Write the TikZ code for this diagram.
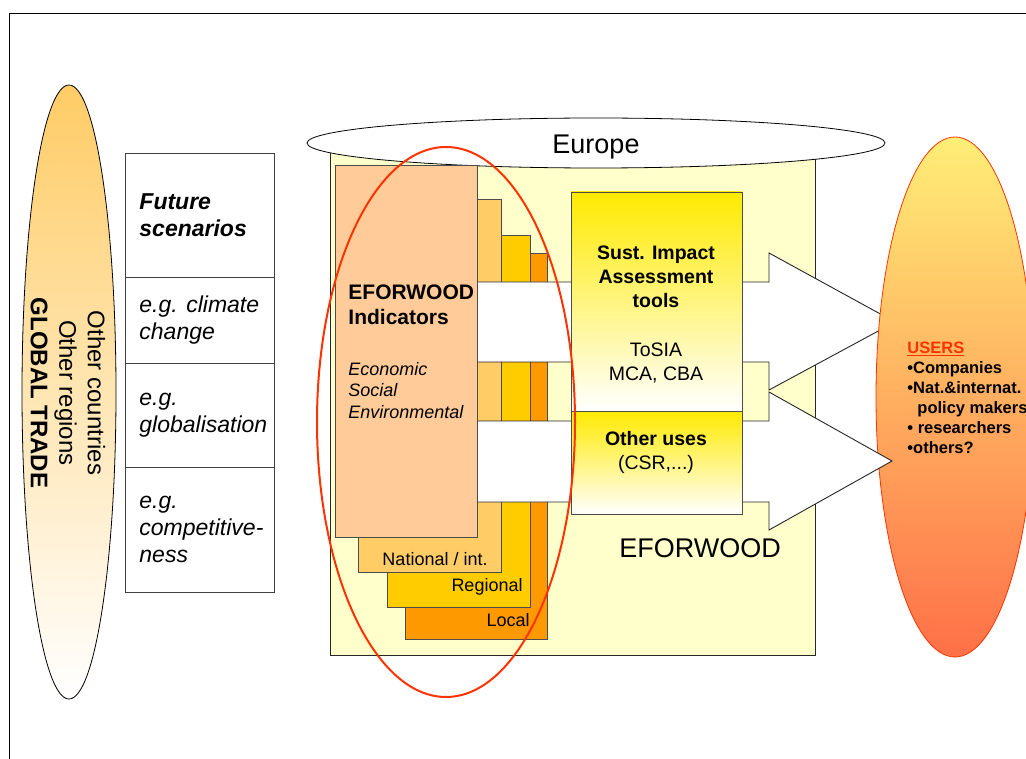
\documentclass[tikz,border=0pt]{standalone}
\usepackage{fontspec}
\setmainfont{Liberation Sans}
\usepackage{tikz}
\usetikzlibrary{shapes.geometric, positioning}

\definecolor{tradeTop}{HTML}{FFCC66}
\definecolor{euroYellow}{HTML}{FFFFCC}
\definecolor{indicPeach}{HTML}{FFCC99}
\definecolor{natOrange}{HTML}{FFCC66}
\definecolor{regGold}{HTML}{FFCC00}
\definecolor{localOrange}{HTML}{FF9900}
\definecolor{toolYellow}{HTML}{FFEA00}
\definecolor{ringRed}{HTML}{FF3300}
\definecolor{usersTop}{HTML}{FFEE77}
\definecolor{usersMid}{HTML}{FFC46C}
\definecolor{usersBottom}{HTML}{FF7048}

\tikzstyle{scencell} = [rectangle, draw=black!75, fill=white, minimum width=149pt,
inner sep=0pt, outer sep=0pt, anchor=north west]
\tikzstyle{scentext} = [inner sep=0pt, align=left, anchor=west,
font=\itshape\fontsize{23}{27}\selectfont]
\tikzstyle{region} = [rectangle, draw=black!85, fill=euroYellow, inner sep=0pt,
outer sep=0pt, anchor=north west]
\tikzstyle{stackbox} = [rectangle, draw=black!70, inner sep=0pt, outer sep=0pt,
anchor=north west]
\tikzstyle{stacklabel} = [inner sep=0pt, anchor=base east,
font=\fontsize{18}{21.5}\selectfont]
\tikzstyle{toolbox} = [rectangle, draw=black!70, top color=toolYellow,
bottom color=white, minimum width=171pt, inner sep=0pt, outer sep=0pt,
anchor=north west]
\tikzstyle{bigarrow} = [draw=black!85, fill=white, line width=0.9pt,
line join=miter]

\begin{document}
\begin{tikzpicture}[x=1pt, y=-1pt, line width=0.9pt]
\useasboundingbox (0,0) rectangle (1026,759);

\draw[line width=0.8pt] (9,775) -- (9,13) -- (1040,13);

% global trade
\node(tradeOval)[ellipse, draw=black, line width=0.8pt, top color=tradeTop,
bottom color=white, minimum width=94pt, minimum height=614pt] at (69,392) {};
\node(tradeText)[rotate=-90, align=center, inner sep=0pt,
font=\fontsize{24}{28.5}\selectfont] at (68,393)
{Other countries\\Other regions\\\textbf{GLOBAL TRADE}};

% scenarios
\node(future)[scencell, minimum height=124pt] at (125,153) {};
\node(climate)[scencell, minimum height=86pt, below=0pt of future] {};
\node(globalisation)[scencell, minimum height=104pt, below=0pt of climate] {};
\node(competition)[scencell, minimum height=125pt, below=0pt of globalisation] {};

\node[scentext, font=\bfseries\itshape\fontsize{23}{27}\selectfont,
right=14pt of future.west]{Future\\scenarios};
\node[scentext, right=14pt of climate.west]{e.g. climate\\change};
\node[scentext, right=14pt of globalisation.west]{e.g.\\globalisation};
\node[scentext, right=14pt of competition.west]{e.g.\\competitive-\\ness};

% europe
\node(euroBlock)[region, minimum width=485pt, minimum height=505pt] at (330,150) {};
\node(europe)[ellipse, draw=black, line width=0.8pt, fill=white, inner sep=0pt,
minimum width=578pt, minimum height=50pt] at (596,143) {};
\node(europeLabel)[font=\fontsize{27}{31}\selectfont, inner sep=0pt, anchor=base]
at ([yshift=-11pt]europe.center) {Europe};

\node(localBox)[stackbox, fill=localOrange, minimum width=142pt,
minimum height=386pt] at (405,253) {};
\node(regionalBox)[stackbox, fill=regGold, minimum width=143pt,
minimum height=372pt] at (387,235) {};
\node(nationalBox)[stackbox, fill=natOrange, minimum width=143pt,
minimum height=373pt] at (358,199) {};

\node[stacklabel] at ([xshift=-13pt, yshift=7pt]nationalBox.south east) {National / int.};
\node[stacklabel] at ([xshift=-7pt, yshift=16pt]regionalBox.south east) {Regional};
\node[stacklabel] at ([xshift=-17pt, yshift=13pt]localBox.south east) {Local};

% big arrows
\draw[bigarrow] (470,282) -- (769,282) -- (769,253) -- (895,322) -- (769,390)
-- (769,362) -- (470,362) -- cycle;

\node(users)[ellipse, draw=ringRed, line width=0.8pt, top color=usersTop,
middle color=usersMid, bottom color=usersBottom, minimum width=158pt,
minimum height=520pt] at (955,397) {};

\draw[bigarrow] (470,421) -- (769,421) -- (769,392) -- (892,461) -- (769,530)
-- (769,502) -- (470,502) -- cycle;

\node(usersText)[font=\bfseries\fontsize{16.5}{20}\selectfont, align=left,
inner sep=0pt, anchor=north west] at (907,342)
{\textcolor{ringRed}{\underline{USERS}}\\•Companies\\•Nat.\&internat.\\
\hspace*{10pt}policy makers\\• researchers\\•others?};

% indicators
\node(indic)[stackbox, fill=indicPeach, minimum width=142pt,
minimum height=372pt] at (335,165) {};
\node(indicTitle)[font=\bfseries\fontsize{21}{25}\selectfont, align=left,
inner sep=0pt, anchor=north west] at (348,284) {EFORWOOD\\Indicators};
\node(indicAspects)[font=\itshape\fontsize{18}{21.5}\selectfont, align=left,
inner sep=0pt, anchor=north west] at (348,362) {Economic\\Social\\Environmental};

% tools
\node(siaBox)[toolbox, minimum height=219pt] at (571,192) {};
\node(otherBox)[toolbox, minimum height=103pt, below=0pt of siaBox] {};

\node(siaTitle)[font=\bfseries\fontsize{19.5}{24}\selectfont, align=center,
inner sep=0pt, anchor=north] at (656,245) {Sust. Impact\\Assessment\\tools};
\node(siaTools)[font=\fontsize{19.5}{24}\selectfont, align=center,
inner sep=0pt, anchor=north] at (656,342) {ToSIA\\MCA, CBA};
\node(otherText)[font=\fontsize{19.5}{24}\selectfont, align=center,
inner sep=0pt, anchor=north] at (656,431) {\textbf{Other uses}\\(CSR,...)};

\node(eforwood)[font=\fontsize{27}{31}\selectfont, inner sep=0pt, anchor=base]
at (700,557) {EFORWOOD};

% focus ring
\node(focusRing)[ellipse, draw=ringRed, line width=2pt, minimum width=258pt,
minimum height=550pt] at (446,422) {};

\end{tikzpicture}
\end{document}
